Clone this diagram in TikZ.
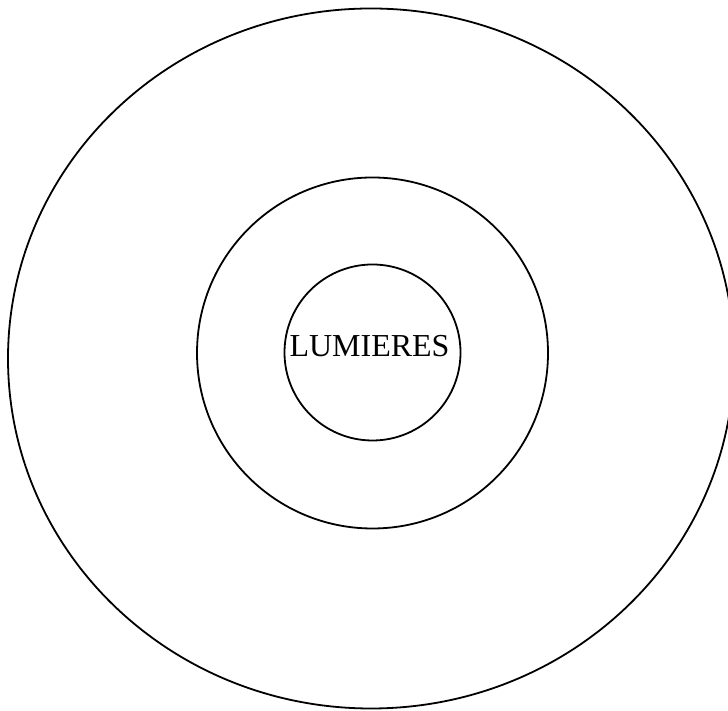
\documentclass[tikz,border=0pt]{standalone}
\usepackage{fontspec}
\setmainfont{Liberation Serif}
\begin{document}
\begin{tikzpicture}[x=1pt,y=1pt,
  ring/.style={draw=black,line width=1.8pt,fill=none},
  label/.style={font=\fontsize{32}{36}\selectfont,inner sep=0pt,anchor=base}]
\useasboundingbox (0,0) rectangle (728,711);
\begin{scope}
\clip (0,0) rectangle (728,711);
\draw[ring] (371,352.5) ellipse [x radius=363, y radius=350];
\end{scope}
\node[ring,circle,minimum size=351pt,inner sep=0pt] (middle) at (372.5,358) {};
\node[ring,circle,minimum size=176pt,inner sep=0pt] (inner) at (372.5,358.5) {};
\node[label] (lum) at (369.5,354) {LUMIERES};
\end{tikzpicture}
\end{document}
